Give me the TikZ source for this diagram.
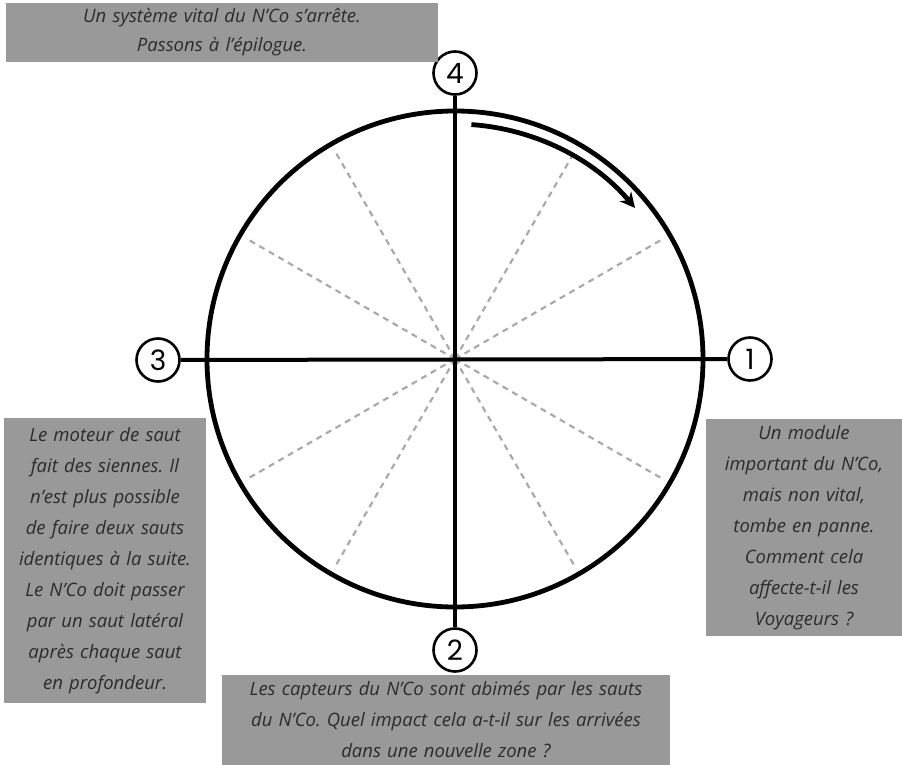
\documentclass[tikz,border=0pt]{standalone}
\usepackage{fontspec}
\setmainfont{Open Sans}
\newfontfamily\numfont{Poppins}
\usetikzlibrary{arrows.meta}
\definecolor{boxgray}{HTML}{999999}
\definecolor{txtgray}{HTML}{2B2B2B}
\definecolor{dashgray}{HTML}{AAAAAA}
\frenchspacing
\tikzset{
  num/.style={draw,circle,line width=2.6pt,fill=white,minimum size=43pt,inner sep=0pt,font=\numfont\fontsize{28}{28}\selectfont},
  infobox/.style={fill=boxgray,text=txtgray,align=center,inner sep=0pt,font=\itshape\fontsize{18.5}{31}\selectfont}
}

\begin{document}
\begin{tikzpicture}[x=1pt,y=-1pt]
  \useasboundingbox (0,0) rectangle (902,765);
  \coordinate (o) at (455,359);
  \foreach \a in {30,60,120,150,210,240,300,330}{\draw[dashgray,line width=2.2pt,dash pattern=on 6pt off 5pt] (o)--++(\a:242pt);}
  \draw[line width=4.8pt] (o) circle[radius=248pt];
  \node[num] (n4) at (455,73) {4};
  \node[num] (n2) at (455,650) {2};
  \node[num] (n3) at (158,360) {3};
  \node[num] (n1) at (750,359) {1};
  \draw[line width=4pt] (n4)--(n2);
  \draw[line width=4pt] (n3)--(n1);
  \draw[line width=4.8pt,-{Stealth[length=15pt,width=15pt]}] (o) ++(86:235pt) arc[start angle=86,end angle=40,radius=235pt];
  \node[infobox,text width=432pt,minimum height=59pt,font=\itshape\fontsize{18.5}{29}\selectfont] (epilogue) at (222,32.5) {Un système vital du N’Co s’arrête.\\Passons à l’épilogue.};
  \node[infobox,text width=196pt,minimum height=217pt] (panne) at (804,527.5) {Un module\\important du N’Co,\\mais non vital,\\tombe en panne.\\Comment cela\\affecte-t-il les\\Voyageurs ?};
  \node[infobox,text width=202pt,minimum height=285pt] (moteur) at (105,560.5) {Le moteur de saut\\fait des siennes. Il\\n’est plus possible\\de faire deux sauts\\identiques à la suite.\\Le N’Co doit passer\\par un saut latéral\\après chaque saut\\en profondeur.};
  \node[infobox,text width=448pt,minimum height=90pt] (capteurs) at (446,720) {Les capteurs du N’Co sont abimés par les sauts\\du N’Co. Quel impact cela a-t-il sur les arrivées\\dans une nouvelle zone ?};
\end{tikzpicture}
\end{document}
